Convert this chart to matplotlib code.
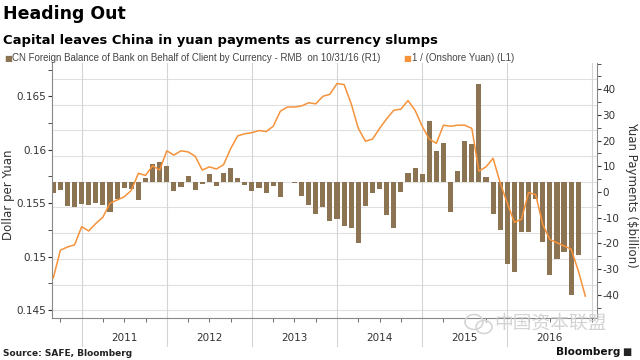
import matplotlib
matplotlib.use("Agg")
import matplotlib.pyplot as plt
import numpy as np
from matplotlib.patches import Ellipse
from matplotlib.ticker import MultipleLocator, FixedLocator, FuncFormatter

plt.rcParams["axes.unicode_minus"] = False

# monthly data, month-end values, first month = Aug 2010
start_year = 2010
start_month = 8

# CN foreign balance of bank on behalf of client, RMB ($bn, right axis), Aug 2010 - Oct 2016
payments = [
    -0.5, 0.8, -5.4, -5.7, -4.6,
    -5.1, -4.1, -5.0, -7.9, -2.8, 1.5, 1.1, -3.1, 5.4, 10.8, 11.7, 10.2,
    0.5, 1.9, 6.1, 0.7, 3.3, 7.0, 2.2, 7.3, 9.5, 5.3, 2.6, 0.6,
    1.7, -0.5, 2.4, -1.8, 3.8, 3.4, -1.4, -5.0, -8.6, -5.9, -11.4, -10.6,
    -13.2, -14.1, -19.7, -5.6, -0.5, 1.1, -8.9, -14.1, -0.1, 7.3, 9.2, 6.9,
    27.8, 16.0, 19.2, -7.6, 8.2, 19.9, 18.6, 42.0, 6.0, -8.5, -14.7, -28.1,
    -31.2, -15.7, -15.7, -2.8, -19.6, -32.2, -26.1, -23.4, -40.2, -24.6,
]

# 1 / onshore yuan (dollar per yuan, left axis), Aug 2010 - Nov 2016
onshore = [
    0.1480, 0.1506, 0.1509, 0.1511, 0.1528,
    0.1524, 0.1531, 0.1537, 0.1550, 0.1553, 0.1556, 0.1562, 0.1578, 0.1576, 0.1585, 0.1581, 0.1599,
    0.1595, 0.1599, 0.1598, 0.1594, 0.1581, 0.1584, 0.1582, 0.1586, 0.1601, 0.1613, 0.1615, 0.1616,
    0.1618, 0.1617, 0.1622, 0.1636, 0.1640, 0.1640, 0.1641, 0.1644, 0.1643, 0.1650, 0.1652, 0.1662,
    0.1661, 0.1643, 0.1620, 0.1608, 0.1610, 0.1620, 0.1629, 0.1637, 0.1638, 0.1646, 0.1637, 0.1622,
    0.1610, 0.1606, 0.1623, 0.1622, 0.1623, 0.1623, 0.1620, 0.1580, 0.1584, 0.1592, 0.1569, 0.1550,
    0.1532, 0.1535, 0.1560, 0.1558, 0.1530, 0.1516, 0.1513, 0.1510, 0.1507, 0.1487, 0.1463,
]

years = [2011, 2012, 2013, 2014, 2015, 2016]
bar_base = 4.0   # bars grow from this level of the right axis

bar_color = "#8c7352"
line_color = "#f5923a"
grid_color = "#e0e0e0"
text_color = "#333333"

# month-end positions in decimal years
x_bars = [start_year + (start_month + i) / 12 for i in range(len(payments))]
x_line = [start_year + (start_month + i) / 12 for i in range(len(onshore))]

fig = plt.figure(figsize=(6.4, 3.6), dpi=100)
ax2 = fig.add_axes([0.0817, 0.118, 0.851, 0.707])
ax = ax2.twinx()
# line axes on top, with ticks on the left
ax.yaxis.tick_left()
ax.yaxis.set_label_position("left")
ax2.yaxis.tick_right()
ax.patch.set_visible(False)

# grid
for g in np.arange(-5, 5) * 10 + bar_base:
    ax2.axhline(g, color=grid_color, lw=0.8, zorder=0)
for yr in years + [2017]:
    ax2.axvline(yr, color="#d4d4d4", lw=0.8, zorder=0)
for yr in years:
    ax2.plot([yr, yr], [0, -0.11], transform=ax2.get_xaxis_transform(),
             color="#d4d4d4", lw=0.8, clip_on=False)

ax2.bar(x_bars, np.array(payments) - bar_base, bottom=bar_base,
        width=0.72 / 12, color=bar_color, zorder=2)
ax.plot(x_line, onshore, color=line_color, lw=1.1, zorder=3)

ax2.set_xlim(2010.655, 2017.053)
ax.set_ylim(0.1443, 0.16812)
ax2.set_ylim(-48.8, 50.2)

# x axis: year labels centered, quarterly ticks
ax2.xaxis.remove_overlapping_locs = False
ax2.xaxis.set_major_locator(FixedLocator([y + 0.5 for y in years]))
ax2.xaxis.set_major_formatter(FuncFormatter(lambda v, p: str(int(v))))
ax2.xaxis.set_minor_locator(MultipleLocator(0.25))
ax2.tick_params(axis="x", which="major", length=0, pad=11, labelsize=7.5,
                labelcolor=text_color, labelbottom=True)
ax2.tick_params(axis="x", which="minor", length=3, color="#555555")
ax.xaxis.set_visible(False)

# left axis
ax.yaxis.set_major_locator(MultipleLocator(0.005))
ax.yaxis.set_minor_locator(MultipleLocator(0.0025))
ax.yaxis.set_major_formatter(FuncFormatter(lambda v, p: "%g" % round(v, 4)))
ax.tick_params(axis="y", which="both", length=3, color="#333333", pad=1.5,
               labelsize=7.5, labelcolor=text_color, left=True, right=False,
               labelleft=True, labelright=False)

# right axis
ax2.yaxis.set_major_locator(FixedLocator(list(range(-40, 50, 10))))
ax2.yaxis.set_minor_locator(MultipleLocator(5))
ax2.tick_params(axis="y", which="both", length=3, color="#333333", pad=1,
                labelsize=7.5, labelcolor=text_color, left=False, right=True,
                labelleft=False, labelright=True)

for s in ["top", "right"]:
    ax.spines[s].set_visible(False)
for s in ["top", "left", "bottom"]:
    ax2.spines[s].set_visible(False)
ax.spines["left"].set_color("#888888")
ax.spines["bottom"].set_color("#888888")
ax2.spines["right"].set_color("#888888")
for s in [ax.spines["left"], ax.spines["bottom"], ax2.spines["right"]]:
    s.set_linewidth(0.8)

fig.text(9 / 640, 0.46, "Dollar per Yuan", rotation=90, ha="center", va="center",
         fontsize=8.5, color=text_color)
fig.text(632 / 640, 0.46, "Yuan Payments ($billion)", rotation=270, ha="center",
         va="center", fontsize=8.5, color=text_color)

# titles
fig.text(0.004, 0.985, "Heading Out", fontsize=12.5, fontweight="bold", va="top")
fig.text(0.004, 0.905, "Capital leaves China in yuan payments as currency slumps",
         fontsize=9.45, fontweight="bold", va="top")

# legend
ly = 1 - 58 / 360
fig.text(4 / 640, ly, "\u25a0", color=bar_color, fontsize=6, va="center")
fig.text(12 / 640, ly, "CN Foreign Balance of Bank on Behalf of Client by Currency - RMB  on 10/31/16 (R1)",
         family="Liberation Sans", fontsize=7.0, color="#444444", va="center")
fig.text(403 / 640, ly, "\u25a0", color=line_color, fontsize=6, va="center")
fig.text(412 / 640, ly, "1 / (Onshore Yuan) (L1)", family="Liberation Sans",
         fontsize=7.0, color="#444444", va="center")

# footer
fig.text(3 / 640, 1 - 353 / 360, "Source: SAFE, Bloomberg", fontsize=6.5,
         fontweight="bold", va="center", color="#222222")
fig.text(620 / 640, 1 - 352 / 360, "Bloomberg", fontsize=7.6, fontweight="bold",
         va="center", ha="right", color="#111111")
fig.text(622 / 640, 1 - 352 / 360, "\u25a0", fontsize=7, va="center", color="#222222")

# watermark (chat-bubble icon + name)
for cx, cy, w, h in [(474, 322, 18, 15), (484, 327, 16, 13)]:
    fig.patches.append(Ellipse((cx / 640, 1 - cy / 360), w / 640, h / 360,
                               transform=fig.transFigure, fill=False,
                               ec="#d6d6d6", lw=1.2))
fig.text(550 / 640, 1 - 323 / 360, "中国资本联盟", family=["Noto Sans CJK SC", "DejaVu Sans"],
         fontsize=13.5, color="#cfcfcf", ha="center", va="center", alpha=0.9)

fig.savefig("out.png", dpi=100, facecolor="white")
